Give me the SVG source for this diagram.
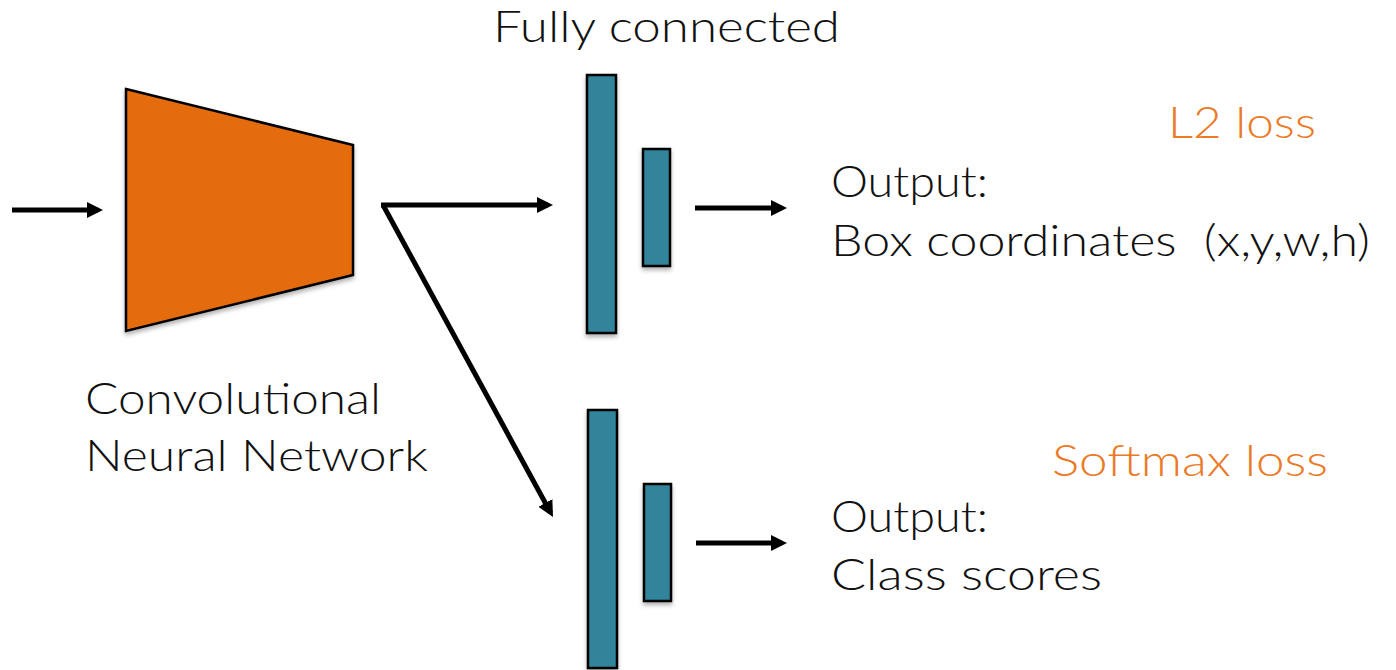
<svg xmlns="http://www.w3.org/2000/svg" width="1396" height="670" viewBox="0 0 1396 670">
  <defs>
    <filter id="shadow" x="-20%" y="-10%" width="140%" height="120%">
      <feDropShadow dx="0" dy="3" stdDeviation="2" flood-color="#000" flood-opacity="0.3"/>
    </filter>
    <marker id="arrow" markerWidth="3.2" markerHeight="3.2" refX="2.2" refY="1.6" orient="auto" markerUnits="strokeWidth">
      <path d="M0,0 L3.2,1.6 L0,3.2 z" fill="#000"/>
    </marker>
  </defs>
  <style>
    .label { font-family: "Lato", "Inter", "Liberation Sans", sans-serif; font-weight: 300; font-size: 44px; fill: #111; }
    .loss { fill: #EB7A26; }
    .fc { fill: #31849B; stroke: #000; stroke-width: 2.5; filter: url(#shadow); }
    .conn { stroke: #000; stroke-width: 5; fill: none; marker-end: url(#arrow); }
  </style>
  <rect width="1396" height="670" fill="#fff"/>

  <g id="connectors">
    <line class="conn" x1="12" y1="210" x2="98" y2="210"/>
    <line class="conn" x1="381" y1="205" x2="548" y2="205"/>
    <line class="conn" x1="383" y1="205" x2="550.6" y2="512.6"/>
    <line class="conn" x1="695" y1="208" x2="782" y2="208"/>
    <line class="conn" x1="696" y1="543" x2="782" y2="543"/>
  </g>

  <g id="cnn">
    <polygon points="126,89 353,145 353,275 126,331" fill="#E46C0C" stroke="#000" stroke-width="2.5" filter="url(#shadow)"/>
    <text class="label" x="85" y="414" textLength="296" lengthAdjust="spacingAndGlyphs">Convolutional</text>
    <text class="label" x="85" y="471" textLength="343" lengthAdjust="spacingAndGlyphs">Neural Network</text>
  </g>

  <g id="fc-title">
    <text class="label" x="493" y="42" textLength="347" lengthAdjust="spacingAndGlyphs">Fully connected</text>
  </g>

  <g id="fc-box">
    <rect class="fc" x="587" y="75" width="29" height="258"/>
    <rect class="fc" x="643" y="149" width="27" height="117"/>
  </g>

  <g id="fc-class">
    <rect class="fc" x="588" y="410" width="29" height="258"/>
    <rect class="fc" x="644" y="484" width="27" height="117"/>
  </g>

  <g id="box-output">
    <text class="label loss" x="1168" y="138" textLength="148" lengthAdjust="spacingAndGlyphs">L2 loss</text>
    <text class="label" x="831" y="197" textLength="157" lengthAdjust="spacingAndGlyphs">Output:</text>
    <text class="label" x="831" y="256" textLength="539" lengthAdjust="spacingAndGlyphs" xml:space="preserve">Box coordinates  (x,y,w,h)</text>
  </g>

  <g id="class-output">
    <text class="label loss" x="1052" y="476" textLength="276" lengthAdjust="spacingAndGlyphs">Softmax loss</text>
    <text class="label" x="831" y="532" textLength="157" lengthAdjust="spacingAndGlyphs">Output:</text>
    <text class="label" x="831" y="590" textLength="271" lengthAdjust="spacingAndGlyphs">Class scores</text>
  </g>
</svg>
